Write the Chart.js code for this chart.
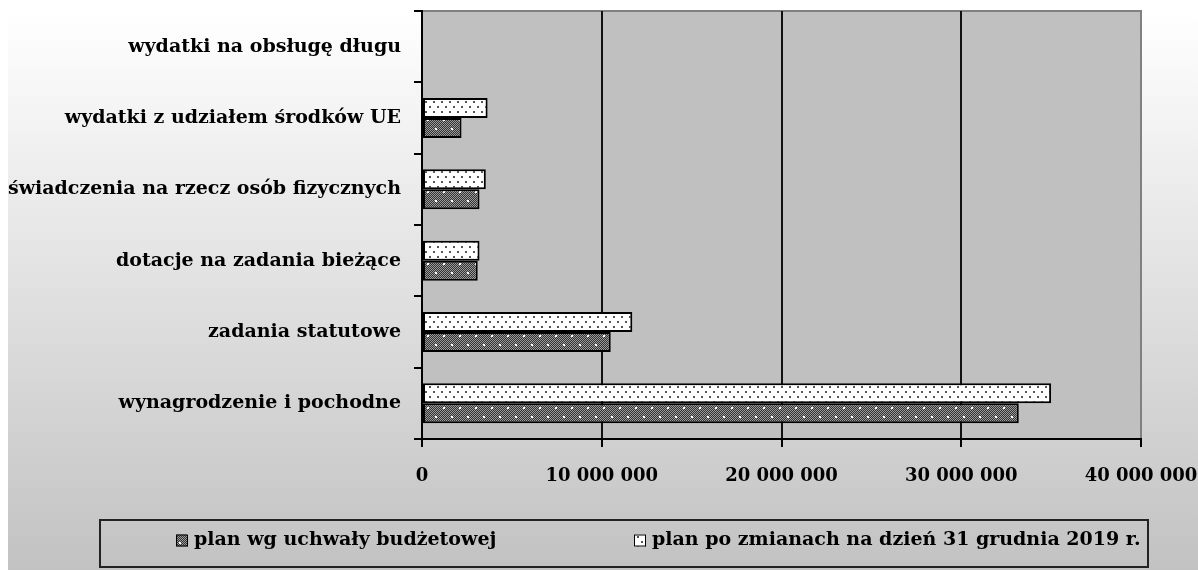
<!DOCTYPE html>
<html lang="pl">
<head>
    <meta charset="UTF-8">
    <title>Wydatki - plan</title>
    <script src="https://cdn.jsdelivr.net/npm/chart.js"></script>
    <style>
        body { margin: 0; background: #fff; }
        #wrap { width: 1198px; height: 570px; }
    </style>
</head>
<body>
<div id="wrap"><canvas id="budgetChart" width="1198" height="570"></canvas></div>
<script>
    // data
    const categories = [
        'wydatki na obsługę długu',
        'wydatki z udziałem środków UE',
        'świadczenia na rzecz osób fizycznych',
        'dotacje na zadania bieżące',
        'zadania statutowe',
        'wynagrodzenie i pochodne'
    ];
    const planUchwala = [0, 2200000, 3200000, 3100000, 10500000, 33200000];
    const planPoZmianach = [0, 3650000, 3550000, 3200000, 11700000, 35000000];
    const seriesNames = ['plan wg uchwały budżetowej', 'plan po zmianach na dzień 31 grudnia 2019 r.'];
    const xTicks = [0, 10000000, 20000000, 30000000, 40000000];

    const FAMILY = '"DejaVu Serif"';
    const FONT = 'bold 19px ' + FAMILY;

    // hatch-like fills
    function makePattern(w, h, draw) {
        const c = document.createElement('canvas');
        c.width = w;
        c.height = h;
        const g = c.getContext('2d');
        draw(g);
        return g.createPattern(c, 'repeat');
    }
    const lightFill = makePattern(8, 10, g => {
        g.fillStyle = '#ffffff';
        g.fillRect(0, 0, 8, 10);
        g.fillStyle = '#555555';
        g.fillRect(1, 1, 2, 2);
        g.fillRect(5, 6, 2, 2);
    });
    const darkFill = makePattern(16, 18, g => {
        for (let y = 0; y < 18; y++) {
            for (let x = 0; x < 16; x++) {
                g.fillStyle = (x + y) % 2 ? '#333333' : '#9a9a9a';
                g.fillRect(x, y, 1, 1);
            }
        }
        g.fillStyle = '#ffffff';
        g.fillRect(3, 2, 2, 2);
        g.fillRect(11, 11, 2, 2);
    });

    function fmt(v) {
        return String(v).replace(/\B(?=(\d{3})+(?!\d))/g, ' ');
    }

    // gradient page, grey plot area with grey frame top/right
    const backdrop = {
        id: 'backdrop',
        beforeDraw(chart) {
            const { ctx, chartArea: a, width, height } = chart;
            ctx.save();
            ctx.fillStyle = '#ffffff';
            ctx.fillRect(0, 0, width, height);
            const grad = ctx.createLinearGradient(0, 10, 0, height);
            grad.addColorStop(0, '#ffffff');
            grad.addColorStop(1, '#c2c2c2');
            ctx.fillStyle = grad;
            ctx.fillRect(8, 10, width - 8, height - 10);
            ctx.fillStyle = '#c0c0c0';
            ctx.fillRect(a.left, a.top, a.right - a.left, a.bottom - a.top);
            ctx.strokeStyle = '#808080';
            ctx.lineWidth = 2;
            ctx.beginPath();
            ctx.moveTo(a.left, a.top);
            ctx.lineTo(a.right, a.top);
            ctx.lineTo(a.right, a.bottom);
            ctx.stroke();
            ctx.restore();
        }
    };

    // legend inside a frame
    const boxedLegend = {
        id: 'boxedLegend',
        afterDraw(chart, args, opts) {
            const ctx = chart.ctx;
            ctx.save();
            ctx.strokeStyle = '#222222';
            ctx.lineWidth = 2;
            ctx.strokeRect(opts.left, opts.top, opts.width, opts.height);
            ctx.font = FONT;
            ctx.textBaseline = 'middle';
            const cy = opts.top + opts.height / 2 - 3;
            const order = [1, 0];
            order.forEach((dsIndex, i) => {
                const ds = chart.data.datasets[dsIndex];
                const x = opts.items[i];
                ctx.fillStyle = ds.backgroundColor;
                ctx.fillRect(x, cy - 6, 12, 12);
                ctx.strokeStyle = '#000000';
                ctx.lineWidth = 1;
                ctx.strokeRect(x + 0.5, cy - 5.5, 11, 11);
                ctx.fillStyle = '#000000';
                ctx.fillText(ds.label, x + 18, cy);
            });
            ctx.restore();
        }
    };

    new Chart(document.getElementById('budgetChart'), {
        type: 'bar',
        data: {
            labels: categories,
            datasets: [{
                label: seriesNames[1],
                data: planPoZmianach,
                backgroundColor: lightFill,
                borderColor: '#000000',
                borderWidth: 2,
                borderSkipped: false
            }, {
                label: seriesNames[0],
                data: planUchwala,
                backgroundColor: darkFill,
                borderColor: '#000000',
                borderWidth: 2,
                borderSkipped: false
            }]
        },
        options: {
            indexAxis: 'y',
            responsive: false,
            animation: false,
            categoryPercentage: 0.56,
            barPercentage: 1,
            layout: { padding: { left: 0, right: 57, top: 11, bottom: 60 } },
            plugins: {
                legend: { display: false },
                tooltip: { enabled: false },
                boxedLegend: { left: 100, top: 520, width: 1048, height: 47, items: [176, 634] }
            },
            scales: {
                x: {
                    min: 0,
                    max: 40000000,
                    afterBuildTicks: s => { s.ticks = xTicks.map(v => ({ value: v })); },
                    afterFit: s => { s.height = 71; s.paddingLeft = 0; s.paddingRight = 0; },
                    border: { color: '#000000', width: 2 },
                    grid: {
                        color: c => (c.tick && c.tick.value === 40000000 ? '#808080' : '#111111'),
                        lineWidth: 2,
                        tickColor: '#000000',
                        tickLength: 8
                    },
                    ticks: {
                        color: '#000000',
                        font: { family: FAMILY, weight: 'bold', size: 18 },
                        padding: 19,
                        maxRotation: 0,
                        callback: v => fmt(v)
                    }
                },
                y: {
                    afterFit: s => { s.width = 422; s.paddingTop = 0; s.paddingBottom = 0; },
                    border: { color: '#000000', width: 2 },
                    grid: {
                        drawOnChartArea: false,
                        color: '#000000',
                        lineWidth: 2,
                        tickLength: 8
                    },
                    ticks: {
                        color: '#000000',
                        font: { family: FAMILY, weight: 'bold', size: 19 },
                        padding: 13
                    }
                }
            }
        },
        plugins: [backdrop, boxedLegend]
    });
</script>
</body>
</html>
